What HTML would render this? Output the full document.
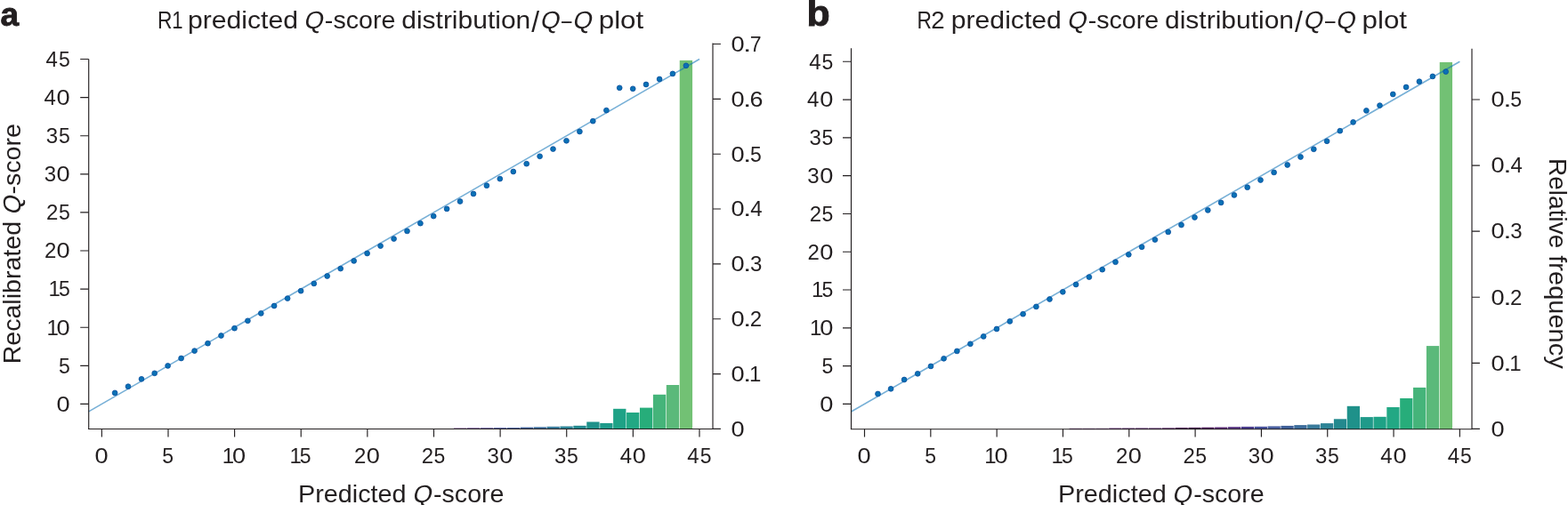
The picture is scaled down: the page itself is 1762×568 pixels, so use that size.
<!DOCTYPE html><html><head><meta charset="utf-8"><title>Q-score distribution / Q-Q plot</title><style>html,body{margin:0;padding:0;background:#fff}svg{display:block}</style></head><body>
<svg width="1762" height="568" viewBox="0 0 1762 568" font-family='"Liberation Sans", sans-serif' fill="#231f20">
<rect width="1762" height="568" fill="#fff"/>
<rect x="510.02" y="481.55" width="14.32" height="1.35" fill="#5a2a75"/>
<rect x="524.95" y="481.35" width="14.33" height="1.55" fill="#5d3a86"/>
<rect x="539.87" y="481.3" width="14.33" height="1.6" fill="#4a3c8c"/>
<rect x="554.8" y="481.15" width="14.33" height="1.75" fill="#46509a"/>
<rect x="569.72" y="481.05" width="14.33" height="1.85" fill="#4a60a0"/>
<rect x="584.65" y="480.6" width="14.33" height="2.3" fill="#3e5f98"/>
<rect x="599.57" y="480.3" width="14.33" height="2.6" fill="#3d6d9c"/>
<rect x="614.5" y="479.8" width="14.33" height="3.1" fill="#3a7b9b"/>
<rect x="629.42" y="479.5" width="14.33" height="3.4" fill="#2e8496"/>
<rect x="644.35" y="478.8" width="14.33" height="4.1" fill="#23898e"/>
<rect x="659.27" y="474.5" width="14.33" height="8.4" fill="#1f918a"/>
<rect x="674.2" y="475.9" width="14.33" height="7" fill="#1f9a8a"/>
<rect x="689.12" y="459.8" width="14.33" height="23.1" fill="#1ea286"/>
<rect x="704.05" y="464" width="14.33" height="18.9" fill="#22a884"/>
<rect x="718.97" y="458.6" width="14.33" height="24.3" fill="#27ad7a"/>
<rect x="733.9" y="443.8" width="14.33" height="39.1" fill="#45b47a"/>
<rect x="748.82" y="433" width="14.33" height="49.9" fill="#5bb97a"/>
<rect x="763.75" y="67.9" width="14.33" height="415" fill="#72c174"/>
<line x1="99.7" y1="462.87" x2="785.99" y2="66.5" stroke="#0a71b5" stroke-opacity="0.56" stroke-width="1.6"/>
<g fill="#0a71b5" stroke="#0a4c9d" stroke-width="0.8">
<circle cx="129.1" cy="441.9" r="2.9"/>
<circle cx="144" cy="434.7" r="2.9"/>
<circle cx="159" cy="426.3" r="2.9"/>
<circle cx="173.7" cy="419.8" r="2.9"/>
<circle cx="188.6" cy="411.4" r="2.9"/>
<circle cx="203.6" cy="403" r="2.9"/>
<circle cx="218.6" cy="394.6" r="2.9"/>
<circle cx="233.5" cy="386.2" r="2.9"/>
<circle cx="248.5" cy="377.5" r="2.9"/>
<circle cx="263.5" cy="369.2" r="2.9"/>
<circle cx="278.4" cy="360.8" r="2.9"/>
<circle cx="293.3" cy="352.4" r="2.9"/>
<circle cx="308.1" cy="344" r="2.9"/>
<circle cx="323.1" cy="335.6" r="2.9"/>
<circle cx="338.1" cy="327.2" r="2.9"/>
<circle cx="352.8" cy="318.9" r="2.9"/>
<circle cx="367.7" cy="310.5" r="2.9"/>
<circle cx="382.7" cy="302.1" r="2.9"/>
<circle cx="397.7" cy="293.4" r="2.9"/>
<circle cx="412.6" cy="285" r="2.9"/>
<circle cx="427.6" cy="276.6" r="2.9"/>
<circle cx="442.6" cy="268.6" r="2.9"/>
<circle cx="457.5" cy="259.9" r="2.9"/>
<circle cx="472.4" cy="251.2" r="2.9"/>
<circle cx="487.2" cy="243.1" r="2.9"/>
<circle cx="502.1" cy="234.9" r="2.9"/>
<circle cx="517" cy="226.5" r="2.9"/>
<circle cx="532" cy="218" r="2.9"/>
<circle cx="546.9" cy="208.7" r="2.9"/>
<circle cx="561.8" cy="201.1" r="2.9"/>
<circle cx="576.8" cy="193" r="2.9"/>
<circle cx="591.7" cy="184.2" r="2.9"/>
<circle cx="606.6" cy="175.8" r="2.9"/>
<circle cx="621.5" cy="167.6" r="2.9"/>
<circle cx="636.5" cy="158.3" r="2.9"/>
<circle cx="651.4" cy="148" r="2.9"/>
<circle cx="666.3" cy="136.2" r="2.9"/>
<circle cx="681.4" cy="124.1" r="2.9"/>
<circle cx="696.2" cy="98.8" r="2.9"/>
<circle cx="711.2" cy="99.8" r="2.9"/>
<circle cx="726" cy="95" r="2.9"/>
<circle cx="741.1" cy="89" r="2.9"/>
<circle cx="755.9" cy="82.9" r="2.9"/>
<circle cx="770.9" cy="73.8" r="2.9"/>
</g>
<path d="M99.7 66.5 V483" stroke="#231f20" stroke-width="1.15" fill="none"/>
<path d="M99.15 482.45 H801.55" stroke="#231f20" stroke-width="1.15" fill="none" stroke-opacity="1.0"/>
<path d="M801 48.6 V483" stroke="#231f20" stroke-width="1.15" fill="none"/>
<path d="M90.2 454.4 H99.7 M114.36 482.45 V491.6 M90.2 411.3 H99.7 M188.99 482.45 V491.6 M90.2 368.2 H99.7 M263.61 482.45 V491.6 M90.2 325.1 H99.7 M338.24 482.45 V491.6 M90.2 282 H99.7 M412.86 482.45 V491.6 M90.2 238.9 H99.7 M487.49 482.45 V491.6 M90.2 195.8 H99.7 M562.11 482.45 V491.6 M90.2 152.7 H99.7 M636.74 482.45 V491.6 M90.2 109.6 H99.7 M711.36 482.45 V491.6 M90.2 66.5 H99.7 M785.99 482.45 V491.6 M801 482.4 H809.9 M801 420.56 H809.9 M801 358.72 H809.9 M801 296.88 H809.9 M801 235.04 H809.9 M801 173.2 H809.9 M801 111.36 H809.9 M801 49.52 H809.9" stroke="#231f20" stroke-width="1.15" fill="none"/>
<g font-size="24">
<text x="63.64" y="462.7" textLength="15.12" lengthAdjust="spacingAndGlyphs">0</text>
<text x="65.88" y="419.6" textLength="12.79" lengthAdjust="spacingAndGlyphs">5</text>
<text x="52.41" y="376.5">1</text><text x="63.64" y="376.5" textLength="15.12" lengthAdjust="spacingAndGlyphs">0</text>
<text x="54.51" y="333.4">1</text><text x="65.88" y="333.4" textLength="12.79" lengthAdjust="spacingAndGlyphs">5</text>
<text x="49.98" y="290.3">2</text><text x="63.64" y="290.3" textLength="15.12" lengthAdjust="spacingAndGlyphs">0</text>
<text x="52.08" y="247.2">2</text><text x="65.88" y="247.2" textLength="12.79" lengthAdjust="spacingAndGlyphs">5</text>
<text x="49.75" y="204.1">3</text><text x="63.64" y="204.1" textLength="15.12" lengthAdjust="spacingAndGlyphs">0</text>
<text x="51.85" y="161">3</text><text x="65.88" y="161" textLength="12.79" lengthAdjust="spacingAndGlyphs">5</text>
<text x="49.45" y="117.9">4</text><text x="63.64" y="117.9" textLength="15.12" lengthAdjust="spacingAndGlyphs">0</text>
<text x="51.55" y="74.8">4</text><text x="65.88" y="74.8" textLength="12.79" lengthAdjust="spacingAndGlyphs">5</text>
<text x="106.5" y="521" textLength="15.12" lengthAdjust="spacingAndGlyphs">0</text>
<text x="182.31" y="521" textLength="12.79" lengthAdjust="spacingAndGlyphs">5</text>
<text x="249.72" y="521">1</text><text x="260.95" y="521" textLength="15.12" lengthAdjust="spacingAndGlyphs">0</text>
<text x="325.4" y="521">1</text><text x="336.76" y="521" textLength="12.79" lengthAdjust="spacingAndGlyphs">5</text>
<text x="398.09" y="521">2</text><text x="411.75" y="521" textLength="15.12" lengthAdjust="spacingAndGlyphs">0</text>
<text x="473.76" y="521">2</text><text x="487.56" y="521" textLength="12.79" lengthAdjust="spacingAndGlyphs">5</text>
<text x="547.41" y="521">3</text><text x="561.3" y="521" textLength="15.12" lengthAdjust="spacingAndGlyphs">0</text>
<text x="623.08" y="521">3</text><text x="637.11" y="521" textLength="12.79" lengthAdjust="spacingAndGlyphs">5</text>
<text x="696.66" y="521">4</text><text x="710.85" y="521" textLength="15.12" lengthAdjust="spacingAndGlyphs">0</text>
<text x="772.34" y="521">4</text><text x="786.66" y="521" textLength="12.79" lengthAdjust="spacingAndGlyphs">5</text>
<text x="821.44" y="490.7" textLength="15.12" lengthAdjust="spacingAndGlyphs">0</text>
<text x="821.44" y="428.86" textLength="15.12" lengthAdjust="spacingAndGlyphs">0</text><text x="835.03" y="428.86" textLength="9.34" lengthAdjust="spacingAndGlyphs">.</text><text x="842.01" y="428.86">1</text>
<text x="821.44" y="367.02" textLength="15.12" lengthAdjust="spacingAndGlyphs">0</text><text x="835.03" y="367.02" textLength="9.34" lengthAdjust="spacingAndGlyphs">.</text><text x="842.68" y="367.02">2</text>
<text x="821.44" y="305.18" textLength="15.12" lengthAdjust="spacingAndGlyphs">0</text><text x="835.03" y="305.18" textLength="9.34" lengthAdjust="spacingAndGlyphs">.</text><text x="843.05" y="305.18">3</text>
<text x="821.44" y="243.34" textLength="15.12" lengthAdjust="spacingAndGlyphs">0</text><text x="835.03" y="243.34" textLength="9.34" lengthAdjust="spacingAndGlyphs">.</text><text x="843.35" y="243.34">4</text>
<text x="821.44" y="181.5" textLength="15.12" lengthAdjust="spacingAndGlyphs">0</text><text x="835.03" y="181.5" textLength="9.34" lengthAdjust="spacingAndGlyphs">.</text><text x="842.98" y="181.5" textLength="12.79" lengthAdjust="spacingAndGlyphs">5</text>
<text x="821.44" y="119.66" textLength="15.12" lengthAdjust="spacingAndGlyphs">0</text><text x="835.03" y="119.66" textLength="9.34" lengthAdjust="spacingAndGlyphs">.</text><text x="842.54" y="119.66" textLength="14.95" lengthAdjust="spacingAndGlyphs">6</text>
<text x="821.44" y="57.82" textLength="15.12" lengthAdjust="spacingAndGlyphs">0</text><text x="835.03" y="57.82" textLength="9.34" lengthAdjust="spacingAndGlyphs">.</text><text x="842.72" y="57.82" textLength="12.85" lengthAdjust="spacingAndGlyphs">7</text>
</g>
<rect x="1201.59" y="481.9" width="14.26" height="1.1" fill="#440154"/>
<rect x="1216.46" y="481.9" width="14.26" height="1.1" fill="#46085c"/>
<rect x="1231.32" y="481.85" width="14.26" height="1.15" fill="#5a2070"/>
<rect x="1246.18" y="481.55" width="14.26" height="1.45" fill="#5a2070"/>
<rect x="1261.05" y="481.55" width="14.26" height="1.45" fill="#4a1560"/>
<rect x="1275.91" y="481.5" width="14.26" height="1.5" fill="#4a1560"/>
<rect x="1290.78" y="481.5" width="14.26" height="1.5" fill="#4a1560"/>
<rect x="1305.64" y="481.35" width="14.26" height="1.65" fill="#4b1558"/>
<rect x="1320.5" y="481" width="14.26" height="2" fill="#4a1052"/>
<rect x="1335.37" y="480.9" width="14.26" height="2.1" fill="#3d0a45"/>
<rect x="1350.23" y="480.7" width="14.26" height="2.3" fill="#4b1558"/>
<rect x="1365.1" y="480.5" width="14.26" height="2.5" fill="#5a2a75"/>
<rect x="1379.96" y="480.1" width="14.26" height="2.9" fill="#5d3a86"/>
<rect x="1394.82" y="479.9" width="14.26" height="3.1" fill="#4a3c8c"/>
<rect x="1409.69" y="479.8" width="14.26" height="3.2" fill="#46509a"/>
<rect x="1424.55" y="479.4" width="14.26" height="3.6" fill="#4a60a0"/>
<rect x="1439.42" y="478.9" width="14.26" height="4.1" fill="#3e5f98"/>
<rect x="1454.28" y="478.1" width="14.26" height="4.9" fill="#3d6d9c"/>
<rect x="1469.14" y="477.5" width="14.26" height="5.5" fill="#3a7b9b"/>
<rect x="1484.01" y="476.1" width="14.26" height="6.9" fill="#2e8496"/>
<rect x="1498.87" y="471.3" width="14.26" height="11.7" fill="#23898e"/>
<rect x="1513.74" y="456.8" width="14.26" height="26.2" fill="#1f918a"/>
<rect x="1528.6" y="469.1" width="14.26" height="13.9" fill="#1f9a8a"/>
<rect x="1543.46" y="468.8" width="14.26" height="14.2" fill="#1ea286"/>
<rect x="1558.33" y="458" width="14.26" height="25" fill="#22a884"/>
<rect x="1573.19" y="448" width="14.26" height="35" fill="#27ad7a"/>
<rect x="1588.06" y="435.9" width="14.26" height="47.1" fill="#45b47a"/>
<rect x="1602.92" y="389.1" width="14.26" height="93.9" fill="#5bb97a"/>
<rect x="1617.78" y="70" width="14.26" height="413" fill="#72c174"/>
<line x1="956.5" y1="463.04" x2="1640.38" y2="69.29" stroke="#0a71b5" stroke-opacity="0.56" stroke-width="1.6"/>
<g fill="#0a71b5" stroke="#0a4c9d" stroke-width="0.8">
<circle cx="986.5" cy="443" r="2.9"/>
<circle cx="1001.1" cy="437.3" r="2.9"/>
<circle cx="1016.1" cy="427" r="2.9"/>
<circle cx="1031.2" cy="420.3" r="2.9"/>
<circle cx="1046" cy="411.9" r="2.9"/>
<circle cx="1060.6" cy="403.3" r="2.9"/>
<circle cx="1075.4" cy="394.9" r="2.9"/>
<circle cx="1090.4" cy="386.8" r="2.9"/>
<circle cx="1105.2" cy="378.4" r="2.9"/>
<circle cx="1120" cy="370" r="2.9"/>
<circle cx="1134.8" cy="361.4" r="2.9"/>
<circle cx="1149.6" cy="353.2" r="2.9"/>
<circle cx="1164.4" cy="344.9" r="2.9"/>
<circle cx="1179.5" cy="336.5" r="2.9"/>
<circle cx="1194.3" cy="328.3" r="2.9"/>
<circle cx="1209.1" cy="320" r="2.9"/>
<circle cx="1223.9" cy="311.6" r="2.9"/>
<circle cx="1238.7" cy="303.2" r="2.9"/>
<circle cx="1253.5" cy="294.7" r="2.9"/>
<circle cx="1268.3" cy="286.3" r="2.9"/>
<circle cx="1283.1" cy="277.8" r="2.9"/>
<circle cx="1297.9" cy="269.6" r="2.9"/>
<circle cx="1312.7" cy="260.9" r="2.9"/>
<circle cx="1327.5" cy="253" r="2.9"/>
<circle cx="1342.5" cy="244.5" r="2.9"/>
<circle cx="1357.3" cy="236.4" r="2.9"/>
<circle cx="1372.1" cy="227.9" r="2.9"/>
<circle cx="1386.9" cy="219.4" r="2.9"/>
<circle cx="1401.7" cy="210.7" r="2.9"/>
<circle cx="1416.5" cy="202.5" r="2.9"/>
<circle cx="1431.6" cy="193.9" r="2.9"/>
<circle cx="1446.7" cy="185.5" r="2.9"/>
<circle cx="1461.5" cy="176.5" r="2.9"/>
<circle cx="1476.3" cy="167.8" r="2.9"/>
<circle cx="1491.1" cy="158.8" r="2.9"/>
<circle cx="1505.8" cy="147.2" r="2.9"/>
<circle cx="1520.6" cy="137.4" r="2.9"/>
<circle cx="1535.4" cy="124.4" r="2.9"/>
<circle cx="1550.5" cy="118.6" r="2.9"/>
<circle cx="1565.3" cy="106" r="2.9"/>
<circle cx="1580.1" cy="98" r="2.9"/>
<circle cx="1594.9" cy="91.7" r="2.9"/>
<circle cx="1609.9" cy="85.9" r="2.9"/>
<circle cx="1624.7" cy="80.6" r="2.9"/>
</g>
<path d="M956.5 54.2 V483.1" stroke="#231f20" stroke-width="1.15" fill="none"/>
<path d="M955.95 482.55 H1654.55" stroke="#231f20" stroke-width="1.15" fill="none" stroke-opacity="0.8"/>
<path d="M1654 54.8 V483.1" stroke="#231f20" stroke-width="1.15" fill="none"/>
<path d="M947 454.4 H956.5 M971.5 482.55 V491.6 M947 411.61 H956.5 M1045.82 482.55 V491.6 M947 368.82 H956.5 M1120.14 482.55 V491.6 M947 326.03 H956.5 M1194.46 482.55 V491.6 M947 283.24 H956.5 M1268.78 482.55 V491.6 M947 240.45 H956.5 M1343.1 482.55 V491.6 M947 197.66 H956.5 M1417.42 482.55 V491.6 M947 154.87 H956.5 M1491.74 482.55 V491.6 M947 112.08 H956.5 M1566.06 482.55 V491.6 M947 69.29 H956.5 M1640.38 482.55 V491.6 M1654 482.4 H1662.9 M1654 408.32 H1662.9 M1654 334.24 H1662.9 M1654 260.16 H1662.9 M1654 186.08 H1662.9 M1654 112 H1662.9" stroke="#231f20" stroke-width="1.15" fill="none"/>
<g font-size="24">
<text x="921.24" y="462.7" textLength="15.12" lengthAdjust="spacingAndGlyphs">0</text>
<text x="923.48" y="419.91" textLength="12.79" lengthAdjust="spacingAndGlyphs">5</text>
<text x="910.01" y="377.12">1</text><text x="921.24" y="377.12" textLength="15.12" lengthAdjust="spacingAndGlyphs">0</text>
<text x="912.11" y="334.33">1</text><text x="923.48" y="334.33" textLength="12.79" lengthAdjust="spacingAndGlyphs">5</text>
<text x="907.58" y="291.54">2</text><text x="921.24" y="291.54" textLength="15.12" lengthAdjust="spacingAndGlyphs">0</text>
<text x="909.68" y="248.75">2</text><text x="923.48" y="248.75" textLength="12.79" lengthAdjust="spacingAndGlyphs">5</text>
<text x="907.35" y="205.96">3</text><text x="921.24" y="205.96" textLength="15.12" lengthAdjust="spacingAndGlyphs">0</text>
<text x="909.45" y="163.17">3</text><text x="923.48" y="163.17" textLength="12.79" lengthAdjust="spacingAndGlyphs">5</text>
<text x="907.05" y="120.38">4</text><text x="921.24" y="120.38" textLength="15.12" lengthAdjust="spacingAndGlyphs">0</text>
<text x="909.15" y="77.59">4</text><text x="923.48" y="77.59" textLength="12.79" lengthAdjust="spacingAndGlyphs">5</text>
<text x="963.64" y="521" textLength="15.12" lengthAdjust="spacingAndGlyphs">0</text>
<text x="1039.15" y="521" textLength="12.79" lengthAdjust="spacingAndGlyphs">5</text>
<text x="1106.25" y="521">1</text><text x="1117.48" y="521" textLength="15.12" lengthAdjust="spacingAndGlyphs">0</text>
<text x="1181.62" y="521">1</text><text x="1192.99" y="521" textLength="12.79" lengthAdjust="spacingAndGlyphs">5</text>
<text x="1254.01" y="521">2</text><text x="1267.67" y="521" textLength="15.12" lengthAdjust="spacingAndGlyphs">0</text>
<text x="1329.38" y="521">2</text><text x="1343.18" y="521" textLength="12.79" lengthAdjust="spacingAndGlyphs">5</text>
<text x="1402.72" y="521">3</text><text x="1416.61" y="521" textLength="15.12" lengthAdjust="spacingAndGlyphs">0</text>
<text x="1478.09" y="521">3</text><text x="1492.12" y="521" textLength="12.79" lengthAdjust="spacingAndGlyphs">5</text>
<text x="1551.36" y="521">4</text><text x="1565.55" y="521" textLength="15.12" lengthAdjust="spacingAndGlyphs">0</text>
<text x="1626.73" y="521">4</text><text x="1641.06" y="521" textLength="12.79" lengthAdjust="spacingAndGlyphs">5</text>
<text x="1675.64" y="490.7" textLength="15.12" lengthAdjust="spacingAndGlyphs">0</text>
<text x="1675.64" y="416.62" textLength="15.12" lengthAdjust="spacingAndGlyphs">0</text><text x="1689.23" y="416.62" textLength="9.34" lengthAdjust="spacingAndGlyphs">.</text><text x="1696.21" y="416.62">1</text>
<text x="1675.64" y="342.54" textLength="15.12" lengthAdjust="spacingAndGlyphs">0</text><text x="1689.23" y="342.54" textLength="9.34" lengthAdjust="spacingAndGlyphs">.</text><text x="1696.88" y="342.54">2</text>
<text x="1675.64" y="268.46" textLength="15.12" lengthAdjust="spacingAndGlyphs">0</text><text x="1689.23" y="268.46" textLength="9.34" lengthAdjust="spacingAndGlyphs">.</text><text x="1697.25" y="268.46">3</text>
<text x="1675.64" y="194.38" textLength="15.12" lengthAdjust="spacingAndGlyphs">0</text><text x="1689.23" y="194.38" textLength="9.34" lengthAdjust="spacingAndGlyphs">.</text><text x="1697.55" y="194.38">4</text>
<text x="1675.64" y="120.3" textLength="15.12" lengthAdjust="spacingAndGlyphs">0</text><text x="1689.23" y="120.3" textLength="9.34" lengthAdjust="spacingAndGlyphs">.</text><text x="1697.18" y="120.3" textLength="12.79" lengthAdjust="spacingAndGlyphs">5</text>
</g>
<text x="0.5" y="28.9" font-size="37" font-weight="bold" stroke="#231f20" stroke-width="0.9">a</text>
<text x="906.6" y="29" font-size="40" font-weight="bold" stroke="#231f20" stroke-width="0.9" textLength="26.2" lengthAdjust="spacingAndGlyphs">b</text>
<text x="177.1" y="32" font-size="27.6" textLength="16.46" lengthAdjust="spacingAndGlyphs">R</text>
<text x="193.2" y="32" font-size="27.6" textLength="12.29" lengthAdjust="spacingAndGlyphs">1</text>
<text x="211.01" y="32" font-size="27.6" textLength="124.04" lengthAdjust="spacingAndGlyphs">predicted</text>
<text transform="translate(340.9 32) skewX(-11)" x="0" y="0" font-size="27.6">Q</text>
<text x="364.86" y="32" font-size="27.6" textLength="79.47" lengthAdjust="spacingAndGlyphs">-score</text>
<text x="451.21" y="32" font-size="27.6" textLength="145.07" lengthAdjust="spacingAndGlyphs">distribution</text>
<text transform="translate(597.3 35.6) scale(1.15 1.225)" x="0" y="0" font-size="27.6">/</text>
<text transform="translate(606.4 32) skewX(-11)" x="0" y="0" font-size="27.6">Q</text>
<text x="631.1" y="32" font-size="27.6" textLength="11.47" lengthAdjust="spacingAndGlyphs">–</text>
<text transform="translate(643 32) skewX(-11)" x="0" y="0" font-size="27.6">Q</text>
<text x="672.73" y="32" font-size="27.6" textLength="50.54" lengthAdjust="spacingAndGlyphs">plot</text>
<text x="1030.45" y="32" font-size="27.6" textLength="16.45" lengthAdjust="spacingAndGlyphs">R</text>
<text x="1046.3" y="32" font-size="27.6" textLength="15.36" lengthAdjust="spacingAndGlyphs">2</text>
<text x="1068.81" y="32" font-size="27.6" textLength="124.04" lengthAdjust="spacingAndGlyphs">predicted</text>
<text transform="translate(1198.7 32) skewX(-11)" x="0" y="0" font-size="27.6">Q</text>
<text x="1222.66" y="32" font-size="27.6" textLength="79.47" lengthAdjust="spacingAndGlyphs">-score</text>
<text x="1309.01" y="32" font-size="27.6" textLength="145.07" lengthAdjust="spacingAndGlyphs">distribution</text>
<text transform="translate(1455.1 35.6) scale(1.15 1.225)" x="0" y="0" font-size="27.6">/</text>
<text transform="translate(1464.2 32) skewX(-11)" x="0" y="0" font-size="27.6">Q</text>
<text x="1488.9" y="32" font-size="27.6" textLength="11.47" lengthAdjust="spacingAndGlyphs">–</text>
<text transform="translate(1500.8 32) skewX(-11)" x="0" y="0" font-size="27.6">Q</text>
<text x="1530.53" y="32" font-size="27.6" textLength="50.54" lengthAdjust="spacingAndGlyphs">plot</text>
<text x="334.91" y="564.6" font-size="27.6" textLength="121.74" lengthAdjust="spacingAndGlyphs">Predicted</text>
<text transform="translate(463 564.6) skewX(-11)" x="0" y="0" font-size="27.6">Q</text>
<text x="487.06" y="564.6" font-size="27.6" textLength="79.47" lengthAdjust="spacingAndGlyphs">-score</text>
<text x="1189.01" y="564.6" font-size="27.6" textLength="121.74" lengthAdjust="spacingAndGlyphs">Predicted</text>
<text transform="translate(1317.1 564.6) skewX(-11)" x="0" y="0" font-size="27.6">Q</text>
<text x="1341.16" y="564.6" font-size="27.6" textLength="79.47" lengthAdjust="spacingAndGlyphs">-score</text>
<text transform="translate(23.2 0) rotate(-90)" x="-409.37" y="0" font-size="27.6" textLength="160.46" lengthAdjust="spacingAndGlyphs">Recalibrated</text>
<text transform="translate(23.2 0) rotate(-90) translate(-242.1 0) skewX(-11)" x="0" y="0" font-size="27.6">Q</text>
<text transform="translate(23.2 0) rotate(-90)" x="-218.64" y="0" font-size="27.6" textLength="79.57" lengthAdjust="spacingAndGlyphs">-score</text>
<text transform="translate(1740.5 0) rotate(90)" x="178.07" y="0" font-size="27.6" textLength="101.16" lengthAdjust="spacingAndGlyphs">Relative</text>
<text transform="translate(1740.5 0) rotate(90)" x="287.3" y="0" font-size="27.6" textLength="127.4" lengthAdjust="spacingAndGlyphs">frequency</text>
</svg></body></html>
